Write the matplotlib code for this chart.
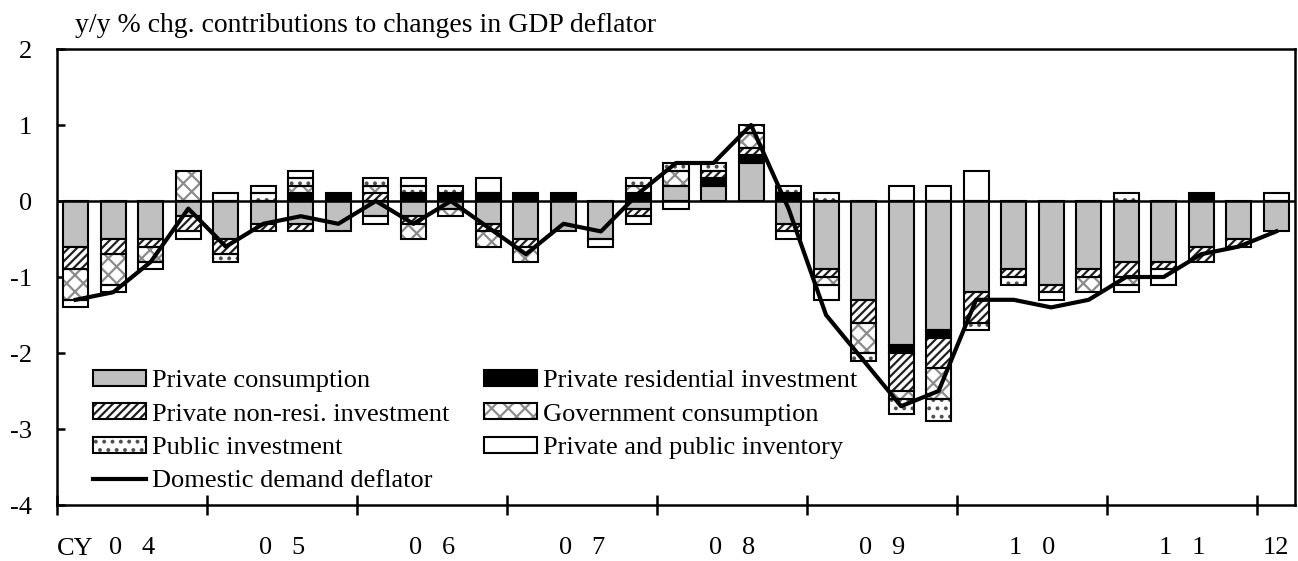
import numpy as np
import matplotlib
matplotlib.use("Agg")
import matplotlib.pyplot as plt
from matplotlib.patches import Patch
from matplotlib.lines import Line2D
from matplotlib.legend_handler import HandlerTuple
from matplotlib.transforms import blended_transform_factory

plt.rcParams['font.family'] = ['Liberation Serif', 'DejaVu Serif']
plt.rcParams['hatch.linewidth'] = 1.6

# ---- data: quarterly, CY2004Q1 .. CY2012Q1 ----
private_consumption = [-0.6, -0.5, -0.5, -0.2, -0.5, -0.3, -0.3, -0.4, -0.2, -0.2, -0.1,
                       -0.3, -0.5, -0.4, -0.5, -0.1, 0.2, 0.2, 0.5, -0.3, -0.9, -1.3,
                       -1.9, -1.7, -1.2, -0.9, -1.1, -0.9, -0.8, -0.8, -0.6, -0.5, -0.4]
private_residential = [0, 0, 0, 0, 0, 0, 0.1, 0.1, 0, 0.1, 0.1,
                       0.1, 0.1, 0.1, 0, 0.1, 0, 0.1, 0.1, 0.1, 0, 0,
                       -0.1, -0.1, 0, 0, 0, 0, 0, 0, 0.1, 0, 0]
private_nonresi = [-0.3, -0.2, -0.1, -0.2, -0.2, -0.1, -0.1, 0, 0.1, -0.1, 0,
                   -0.1, -0.1, 0, 0, -0.1, 0, 0.1, 0.1, -0.1, -0.1, -0.3,
                   -0.5, -0.4, -0.4, -0.1, -0.1, -0.1, -0.2, -0.1, -0.2, -0.1, 0]
government_consumption = [-0.4, -0.4, -0.2, 0.4, 0, 0, 0.1, 0, 0.1, -0.2, -0.1,
                          -0.2, -0.2, 0, 0, 0.1, 0.2, 0, 0.2, 0, -0.1, -0.4,
                          -0.1, -0.4, 0, 0, 0, -0.2, -0.1, 0, 0, 0, 0]
public_investment = [0, 0, 0, 0, -0.1, 0.1, 0.1, 0, 0.1, 0.1, 0.1,
                     0, 0, 0, 0, 0.1, 0.1, 0.1, 0.1, 0.1, 0.1, -0.1,
                     -0.2, -0.3, -0.1, -0.1, 0, 0, 0.1, 0, 0, 0, 0]
inventory = [-0.1, -0.1, -0.1, -0.1, 0.1, 0.1, 0.1, 0, -0.1, 0.1, 0,
             0.2, 0, 0, -0.1, -0.1, -0.1, 0, 0, -0.1, -0.2, 0,
             0.2, 0.2, 0.4, 0, -0.1, 0, -0.1, -0.2, 0, 0, 0.1]
domestic_demand_deflator = [-1.3, -1.2, -0.8, -0.1, -0.6, -0.3, -0.2, -0.3, 0.0, -0.3, 0.0,
                            -0.35, -0.7, -0.3, -0.4, 0.1, 0.5, 0.5, 1.0, -0.1, -1.5, -2.1,
                            -2.7, -2.5, -1.3, -1.3, -1.4, -1.3, -1.0, -1.0, -0.7, -0.6, -0.4]
year_labels = ["0   4", "0   5", "0   6", "0   7", "0   8", "0   9", "1   0", "1   1", "12"]
series_names = ["Private consumption", "Private residential investment",
                "Private non-resi. investment", "Government consumption",
                "Public investment", "Private and public inventory"]

series = [private_consumption, private_residential, private_nonresi,
          government_consumption, public_investment, inventory]
styles = [
    dict(facecolor='#c0c0c0', hatch=None, hcolor='black'),
    dict(facecolor='black', hatch=None, hcolor='black'),
    dict(facecolor='white', hatch='////', hcolor='#202020'),
    dict(facecolor='white', hatch='xx', hcolor='#8c8c8c'),
    dict(facecolor='white', hatch='..', hcolor='#505050'),
    dict(facecolor='white', hatch=None, hcolor='black'),
]

fig = plt.figure(figsize=(12.98, 5.61), dpi=100)
ax = fig.add_axes([57/1298, 1-505/561, 1238/1298, 456/561])

n = len(private_consumption)
x = np.arange(n)
width = 0.667
pos_bottom = np.zeros(n)
neg_bottom = np.zeros(n)
for vals, st in zip(series, styles):
    v = np.array(vals, dtype=float)
    for part, bottom in ((np.clip(v, 0, None), pos_bottom), (np.clip(v, None, 0), neg_bottom)):
        mask = part != 0
        if not mask.any():
            continue
        ax.bar(x[mask], part[mask], width, bottom=bottom[mask], color=st['facecolor'],
               edgecolor=st['hcolor'], hatch=st['hatch'], linewidth=0, zorder=2)
        ax.bar(x[mask], part[mask], width, bottom=bottom[mask], fill=False,
               edgecolor='black', linewidth=1.5, zorder=3)
        bottom += part

ax.plot(x, domestic_demand_deflator, color='black', linewidth=3, zorder=5)
ax.axhline(0, color='black', linewidth=1.8, zorder=4)

ax.set_xlim(-0.5, n - 0.5)
ax.set_ylim(-4, 2)
ax.set_yticks([2, 1, 0, -1, -2, -3, -4])
ax.set_yticklabels(['2', '1', '0', '-1', '-2', '-3', '-4'])
ax.tick_params(axis='y', direction='in', length=6, width=1.8, labelsize=19, pad=18)
ax.set_xticks(np.arange(-0.5, n - 0.5, 4))
ax.set_xticklabels([])
ax.tick_params(axis='x', which='major', direction='inout', length=15, width=1.8)
centers = [1.5 + 4 * k for k in range(8)] + [32]
ax.set_xticks(centers, minor=True)
ax.set_xticklabels(year_labels, minor=True)
ax.tick_params(axis='x', which='minor', length=0, labelsize=19, pad=23)
for s in ax.spines.values():
    s.set_linewidth(1.8)

trans = blended_transform_factory(ax.transData, ax.transAxes)
ax.text(-0.5, -(549 - 505) / 456, "CY", transform=trans, ha='left', va='center', fontsize=19)

fig.text(75/1298, 1-25/561, "y/y % chg. contributions to changes in GDP deflator",
         ha='left', va='center', fontsize=20)

handles = []
for name, st in zip(series_names, styles):
    fillp = Patch(facecolor=st['facecolor'], edgecolor=st['hcolor'], hatch=st['hatch'],
                  linewidth=0)
    edgep = Patch(fill=False, edgecolor='black', linewidth=1.5)
    handles.append((fillp, edgep))
line_handle = Line2D([], [], color='black', linewidth=3)
order = [handles[0], handles[2], handles[4], line_handle, handles[1], handles[3], handles[5]]
labels = [series_names[0], series_names[2], series_names[4], "Domestic demand deflator",
          series_names[1], series_names[3], series_names[5]]
leg = ax.legend(order, labels, ncol=2, loc='upper left',
                handler_map={tuple: HandlerTuple(ndivide=1, pad=0)},
                bbox_to_anchor=((93-57)/1238, (505-370)/456), frameon=False,
                fontsize=19, handlelength=2.0, handleheight=0.55, handletextpad=0.25,
                columnspacing=1.3, labelspacing=0.42, borderpad=0, borderaxespad=0)

fig.savefig("out.png", dpi=100)
